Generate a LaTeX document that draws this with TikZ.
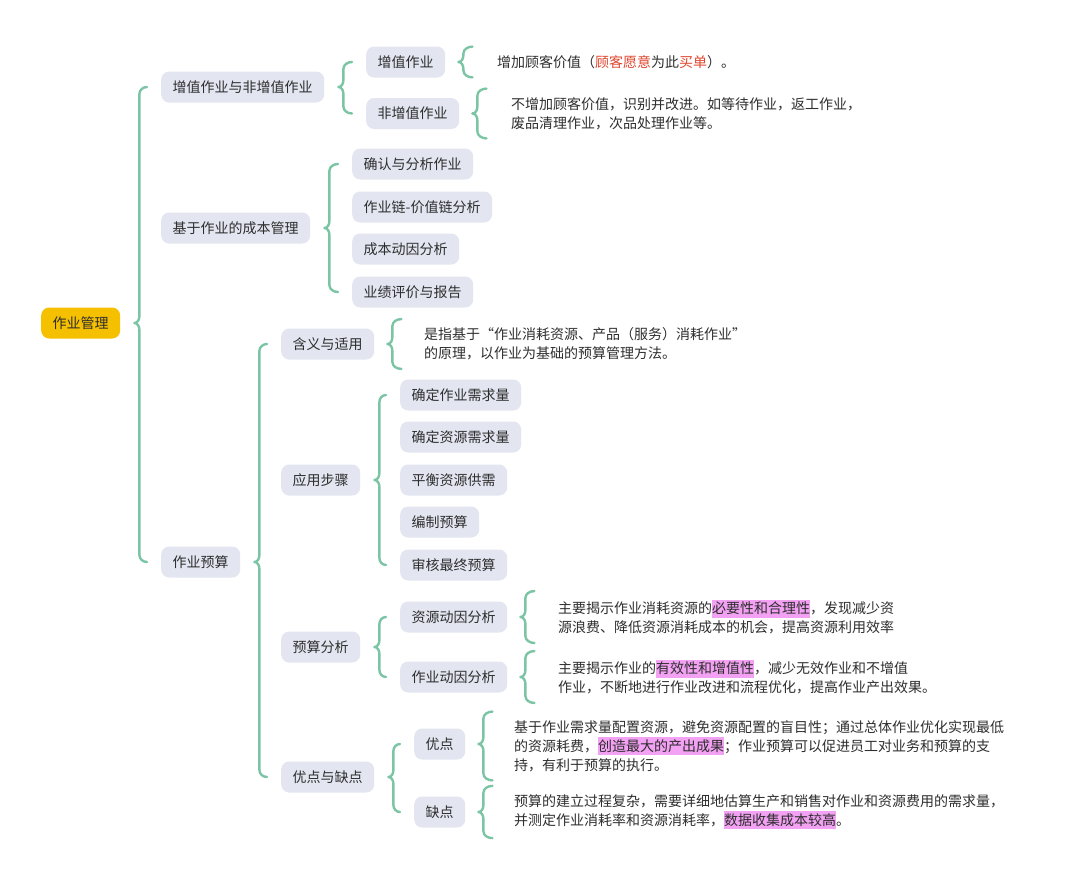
\documentclass[tikz,border=0pt]{standalone}
\usepackage{fontspec}
\setmainfont{Noto Sans CJK SC}
\usetikzlibrary{calc}
\definecolor{lineg}{HTML}{7BC5A5}
\definecolor{nodebg}{HTML}{E3E6F1}
\definecolor{rootbg}{HTML}{F5C000}
\definecolor{txt}{HTML}{2E2E2E}
\definecolor{redt}{HTML}{E0452D}
\definecolor{hlp}{HTML}{F3A1F3}
\newcommand{\hlt}[1]{\begingroup\setlength{\fboxsep}{0pt}\colorbox{hlp}{\rule[-4pt]{0pt}{18pt}#1}\endgroup}
% brace from parent to first..last child
\newcommand{\brc}[3]{%
  \draw[brl] let \p1=(#1.east), \p2=(#2.west), \p3=(#3.west) in
   (\x2-14pt,\y2) to[out=180,in=90] (\x1+19pt,\y2-7pt) -- (\x1+19pt,\y1+7pt)
   to[out=-90,in=0] (\x1+14pt,\y1) to[out=0,in=90] (\x1+19pt,\y1-7pt)
   -- (\x1+19pt,\y3+7pt) to[out=-90,in=180] (\x2-14pt,\y3);}
% brace from parent to a text block
\newcommand{\lbrc}[2]{%
  \draw[brl] let \p1=(#1.east), \p2=(#2.north), \p3=(#2.south) in
   (\x1+27pt,\y2) to[out=180,in=90] (\x1+18pt,\y2-7pt) -- (\x1+18pt,\y1+7pt)
   to[out=-90,in=0] (\x1+13pt,\y1) to[out=0,in=90] (\x1+18pt,\y1-7pt)
   -- (\x1+18pt,\y3+7pt) to[out=-90,in=180] (\x1+27pt,\y3);}
\begin{document}
\begin{tikzpicture}[x=1pt,y=-1pt,
  box/.style={anchor=west, fill=nodebg, rounded corners=8pt, minimum height=31pt,
    inner xsep=11.5pt, inner ysep=0pt, text=txt, font=\fontsize{14pt}{19pt}\selectfont},
  rootbox/.style={box, fill=rootbg},
  leaf/.style={anchor=west, align=left, inner xsep=0pt, inner ysep=8.5pt, text=txt,
    font=\fontsize{14pt}{19pt}\selectfont},
  brl/.style={draw=lineg, line width=2.4pt, line cap=round, line join=round}]
\useasboundingbox[fill=white] (0,0) rectangle (1080,878);

\node[rootbox] (root) at (41,323) {作业管理};

\node[box] (n1) at (161,87) {增值作业与非增值作业};
\node[box] (n11) at (366,62) {增值作业};
\node[box] (n12) at (366,113.5) {非增值作业};
\node[leaf] (t11) at (497,62) {增加顾客价值（\textcolor{redt}{顾客愿意}为此\textcolor{redt}{买单}）。};
\node[leaf] (t12) at (511,113.5) {不增加顾客价值，识别并改进。如等待作业，返工作业，\\废品清理作业，次品处理作业等。};

\node[box] (n2) at (161,228) {基于作业的成本管理};
\node[box] (n21) at (352,164) {确认与分析作业};
\node[box] (n22) at (352,207) {作业链-价值链分析};
\node[box] (n23) at (352,249) {成本动因分析};
\node[box] (n24) at (352,292) {业绩评价与报告};

\node[box] (n3) at (161,562) {作业预算};
\node[box] (n31) at (281,344) {含义与适用};
\node[leaf] (t31) at (424,344) {是指基于“作业消耗资源、产品（服务）消耗作业”\\的原理，以作业为基础的预算管理方法。};

\node[box] (n32) at (281,480) {应用步骤};
\node[box] (n321) at (400,395) {确定作业需求量};
\node[box] (n322) at (400,437) {确定资源需求量};
\node[box] (n323) at (400,480) {平衡资源供需};
\node[box] (n324) at (400,522) {编制预算};
\node[box] (n325) at (400,565) {审核最终预算};

\node[box] (n33) at (281,647) {预算分析};
\node[box] (n331) at (400,617) {资源动因分析};
\node[box] (n332) at (400,677) {作业动因分析};
\node[leaf] (t331) at (558,617) {主要揭示作业消耗资源的\hlt{必要性和合理性}，发现减少资\\源浪费、降低资源消耗成本的机会，提高资源利用效率};
\node[leaf] (t332) at (558,677) {主要揭示作业的\hlt{有效性和增值性}，减少无效作业和不增值\\作业，不断地进行作业改进和流程优化，提高作业产出效果。};

\node[box] (n34) at (281,777) {优点与缺点};
\node[box] (n341) at (414,744) {优点};
\node[box] (n342) at (414,812) {缺点};
\node[leaf] (t341) at (514,746) {基于作业需求量配置资源，避免资源配置的盲目性；通过总体作业优化实现最低\\的资源耗费，\hlt{创造最大的产出成果}；作业预算可以促进员工对业务和预算的支\\持，有利于预算的执行。};
\node[leaf] (t342) at (514,812) {预算的建立过程复杂，需要详细地估算生产和销售对作业和资源费用的需求量，\\并测定作业消耗率和资源消耗率，\hlt{数据收集成本较高}。};

\brc{root}{n1}{n3}
\brc{n1}{n11}{n12}
\brc{n2}{n21}{n24}
\brc{n3}{n31}{n34}
\brc{n32}{n321}{n325}
\brc{n33}{n331}{n332}
\brc{n34}{n341}{n342}
\lbrc{n11}{t11}
\lbrc{n12}{t12}
\lbrc{n31}{t31}
\lbrc{n331}{t331}
\lbrc{n332}{t332}
\lbrc{n341}{t341}
\lbrc{n342}{t342}
\end{tikzpicture}
\end{document}
